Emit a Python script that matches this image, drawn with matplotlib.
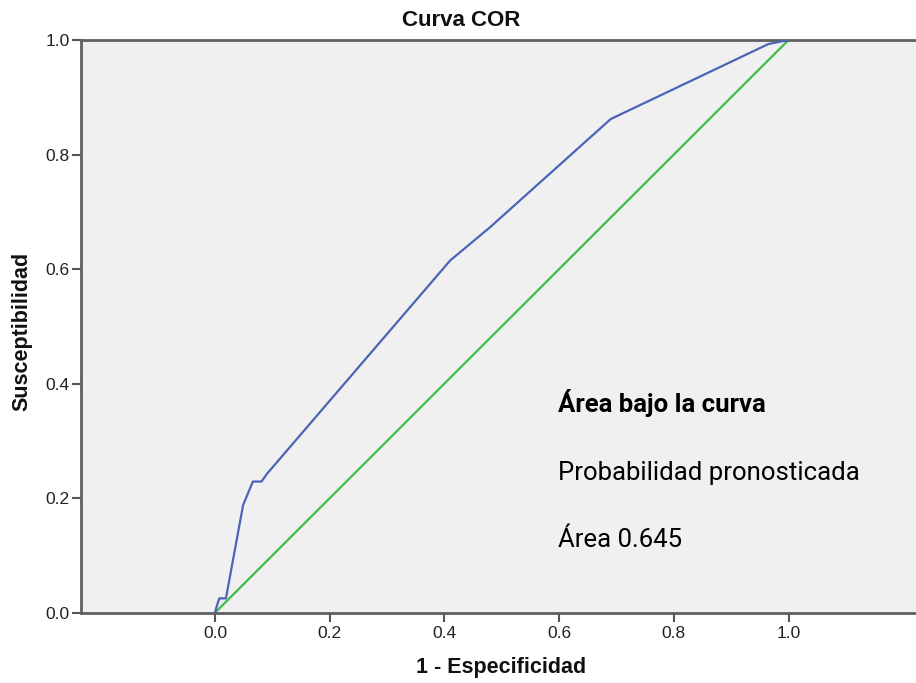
import matplotlib
matplotlib.use("Agg")
import matplotlib.pyplot as plt
from matplotlib import font_manager

# Data
fpr = [0.0, 0.002, 0.0075, 0.019, 0.049, 0.066, 0.081, 0.091, 0.410, 0.4795, 0.690, 0.965, 1.0]
tpr = [0.0, 0.008, 0.025, 0.025, 0.188, 0.229, 0.229, 0.243, 0.615, 0.673, 0.862, 0.993, 1.0]
ref_x = [0.0, 1.0]
ref_y = [0.0, 1.0]
xticks = [0.0, 0.2, 0.4, 0.6, 0.8, 1.0]
yticks = [0.0, 0.2, 0.4, 0.6, 0.8, 1.0]
title = "Curva COR"
xlabel = "1 - Especificidad"
ylabel = "Susceptibilidad"
ann_lines = ["Área bajo la curva", "Probabilidad pronosticada", "Área 0.645"]

names = {f.name for f in font_manager.fontManager.ttflist}
narrow = "Liberation Sans Narrow" if "Liberation Sans Narrow" in names else "Roboto"
base = "Liberation Sans"

fig = plt.figure(figsize=(9.16, 6.83), dpi=100)
W, H = 916, 683
left, right, top, bottom = 81, 916, 40, 612.7
ax = fig.add_axes([left / W, 1 - bottom / H, (right - left) / W, (bottom - top) / H])
ax.set_facecolor("#F0F0F0")

ax.plot(ref_x, ref_y, color="#3DBE4C", lw=1.6, zorder=2)
ax.plot(fpr, tpr, color="#4A64B8", lw=1.6, zorder=3)

ax.set_xlim(-0.2337, 1.2223)
ax.set_ylim(0, 1)
ax.set_xticks(xticks)
ax.set_yticks(yticks)
ax.set_xticklabels([f"{v:.1f}" for v in xticks], fontfamily=base, fontsize=12.5, color="#222222")
ax.set_yticklabels([f"{v:.1f}" for v in yticks], fontfamily=base, fontsize=12.5, color="#222222")
ax.tick_params(axis="both", direction="out", length=6.5, width=1.5, color="#555555")
ax.tick_params(axis="x", pad=3)
ax.tick_params(axis="y", pad=1.5)

for s in ["left", "bottom", "top"]:
    ax.spines[s].set_color("#606060")
    ax.spines[s].set_linewidth(2)
ax.spines["right"].set_visible(False)

fig.text(461 / W, 1 - 20 / H, title, ha="center", va="center", fontfamily=base,
         fontsize=16, fontweight="bold", color="#111111")
fig.text(501.5 / W, 1 - 668 / H, xlabel, ha="center", va="center", fontfamily=base,
         fontsize=15.5, fontweight="bold", color="#111111")
fig.text(21.7 / W, 1 - 331 / H, ylabel, ha="center", va="center", rotation=90,
         fontfamily=base, fontsize=15.5, fontweight="bold", color="#111111")

baselines = [411.7, 480, 546.7]
for i, (txt, yb) in enumerate(zip(ann_lines, baselines)):
    fig.text(558 / W, 1 - yb / H, txt, ha="left", va="baseline", fontfamily=narrow,
             fontsize=18.5, fontweight="bold" if i == 0 else "normal", color="#000000")

fig.savefig("out.png", dpi=100)
